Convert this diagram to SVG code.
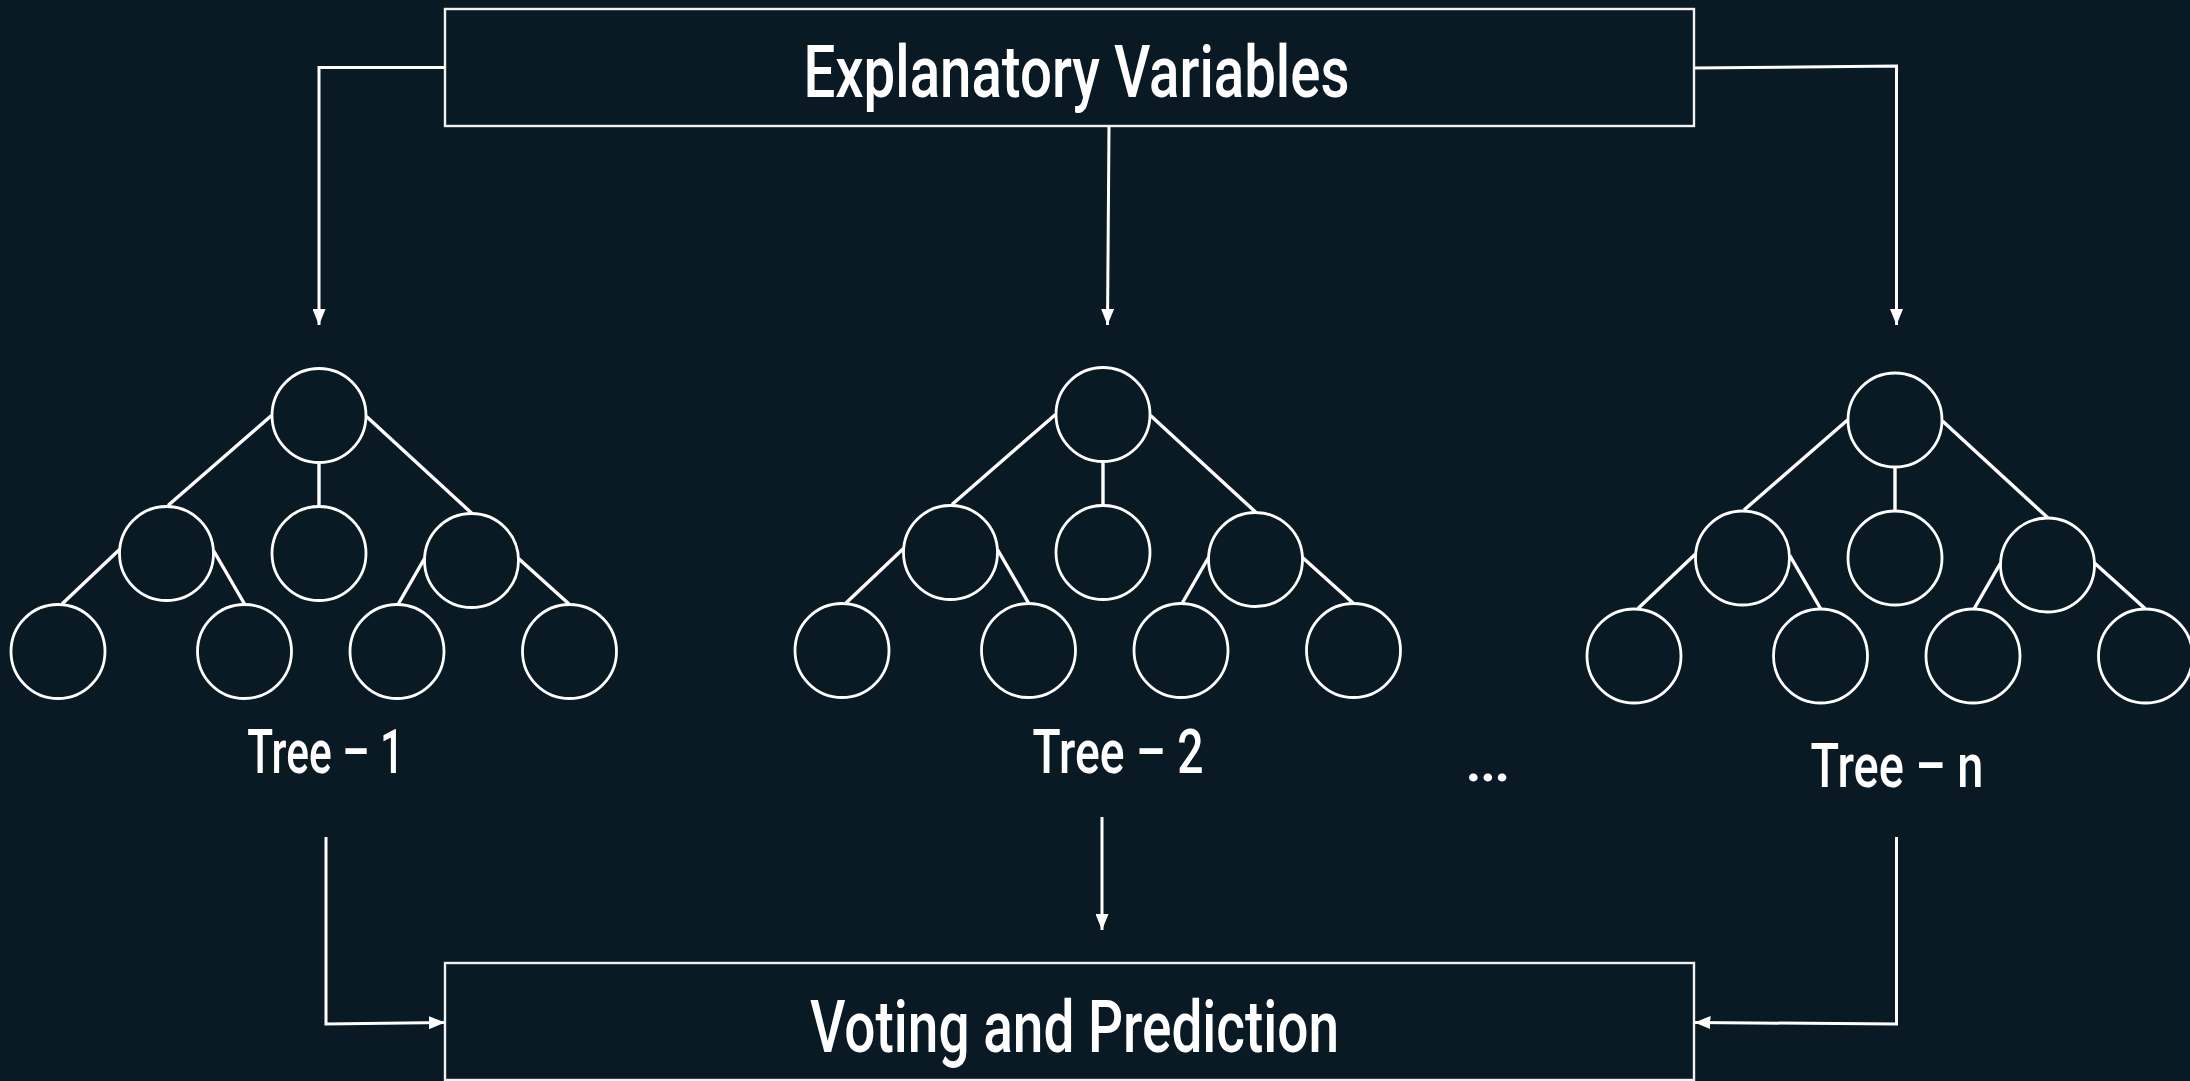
<svg xmlns="http://www.w3.org/2000/svg" xmlns:xlink="http://www.w3.org/1999/xlink" width="2190" height="1081" viewBox="0 0 2190 1081">
  <style>
    .box { fill: #0a1a24; stroke: #f2f2f2; stroke-width: 2.4; }
    .node { fill: none; stroke: #ffffff; stroke-width: 2.8; }
    .edge { stroke: #ffffff; stroke-width: 3.4; fill: none; }
    .conn { stroke: #ffffff; stroke-width: 3; fill: none; }
    .title { font-family: Roboto, "Liberation Sans", Arial, sans-serif; font-weight: 500; font-size: 73px; fill: #ffffff; text-anchor: middle; }
    .label { font-family: Roboto, "Liberation Sans", Arial, sans-serif; font-weight: 500; font-size: 62px; fill: #ffffff; text-anchor: middle; }
  </style>
  <defs>
    <marker id="arrow" markerUnits="userSpaceOnUse" markerWidth="17" markerHeight="13" refX="16" refY="6.5" orient="auto">
      <path d="M0,0 L16,6.5 L0,13 Z" fill="#ffffff"/>
    </marker>
    <g id="tree">
      <line class="edge" x1="-47.5" y1="0" x2="-151" y2="90"/>
      <line class="edge" x1="0" y1="47" x2="0" y2="91"/>
      <line class="edge" x1="47.5" y1="1" x2="153" y2="98"/>
      <line class="edge" x1="-199.5" y1="134" x2="-257" y2="188.5"/>
      <line class="edge" x1="-105.5" y1="135" x2="-74.5" y2="188.5"/>
      <line class="edge" x1="105.5" y1="143" x2="79" y2="189"/>
      <line class="edge" x1="199.5" y1="143" x2="250" y2="188.5"/>
      <circle class="node" cx="0" cy="0" r="47"/>
      <circle class="node" cx="-152.5" cy="138" r="47"/>
      <circle class="node" cx="0" cy="138" r="47"/>
      <circle class="node" cx="152.5" cy="145" r="47"/>
      <circle class="node" cx="-261" cy="236" r="47"/>
      <circle class="node" cx="-74.5" cy="236" r="47"/>
      <circle class="node" cx="78" cy="236" r="47"/>
      <circle class="node" cx="250.5" cy="236" r="47"/>
    </g>
  </defs>
  <rect x="0" y="0" width="2190" height="1081" fill="#0a1a24"/>

  <g id="connectors">
    <polyline class="conn" points="445,67.5 319,67.5 319,325" marker-end="url(#arrow)"/>
    <line class="conn" x1="1109" y1="126" x2="1107.5" y2="325" marker-end="url(#arrow)"/>
    <polyline class="conn" points="1694,68 1896.5,66 1896.5,325" marker-end="url(#arrow)"/>
    <polyline class="conn" points="326,837 326,1024 445,1022.5" marker-end="url(#arrow)"/>
    <line class="conn" x1="1102" y1="817" x2="1102" y2="930" marker-end="url(#arrow)"/>
    <polyline class="conn" points="1896.5,837 1896.5,1024 1694.5,1022.5" marker-end="url(#arrow)"/>
  </g>

  <g id="explanatory-variables">
    <rect class="box" x="445" y="9" width="1249" height="117"/>
    <text class="title" x="1076.4" y="97.3" textLength="546" lengthAdjust="spacingAndGlyphs">Explanatory Variables</text>
  </g>

  <g id="tree-1">
    <use href="#tree" xlink:href="#tree" x="319" y="415.5"/>
    <text class="label" x="325.7" y="772.7" textLength="157" lengthAdjust="spacingAndGlyphs">Tree – 1</text>
  </g>

  <g id="tree-2">
    <use href="#tree" xlink:href="#tree" x="1103" y="414.5"/>
    <text class="label" x="1118" y="772.7" textLength="171" lengthAdjust="spacingAndGlyphs">Tree – 2</text>
  </g>

  <g id="ellipsis">
    <text class="label" x="1488" y="781" font-size="80" font-weight="bold" textLength="46" lengthAdjust="spacing">...</text>
  </g>

  <g id="tree-n">
    <use href="#tree" xlink:href="#tree" x="1895" y="420"/>
    <text class="label" x="1897" y="786.7" textLength="173" lengthAdjust="spacingAndGlyphs">Tree – n</text>
  </g>

  <g id="voting-and-prediction">
    <rect class="box" x="445" y="963" width="1249" height="117"/>
    <text class="title" x="1074.6" y="1051.7" textLength="529" lengthAdjust="spacingAndGlyphs">Voting and Prediction</text>
  </g>
</svg>
